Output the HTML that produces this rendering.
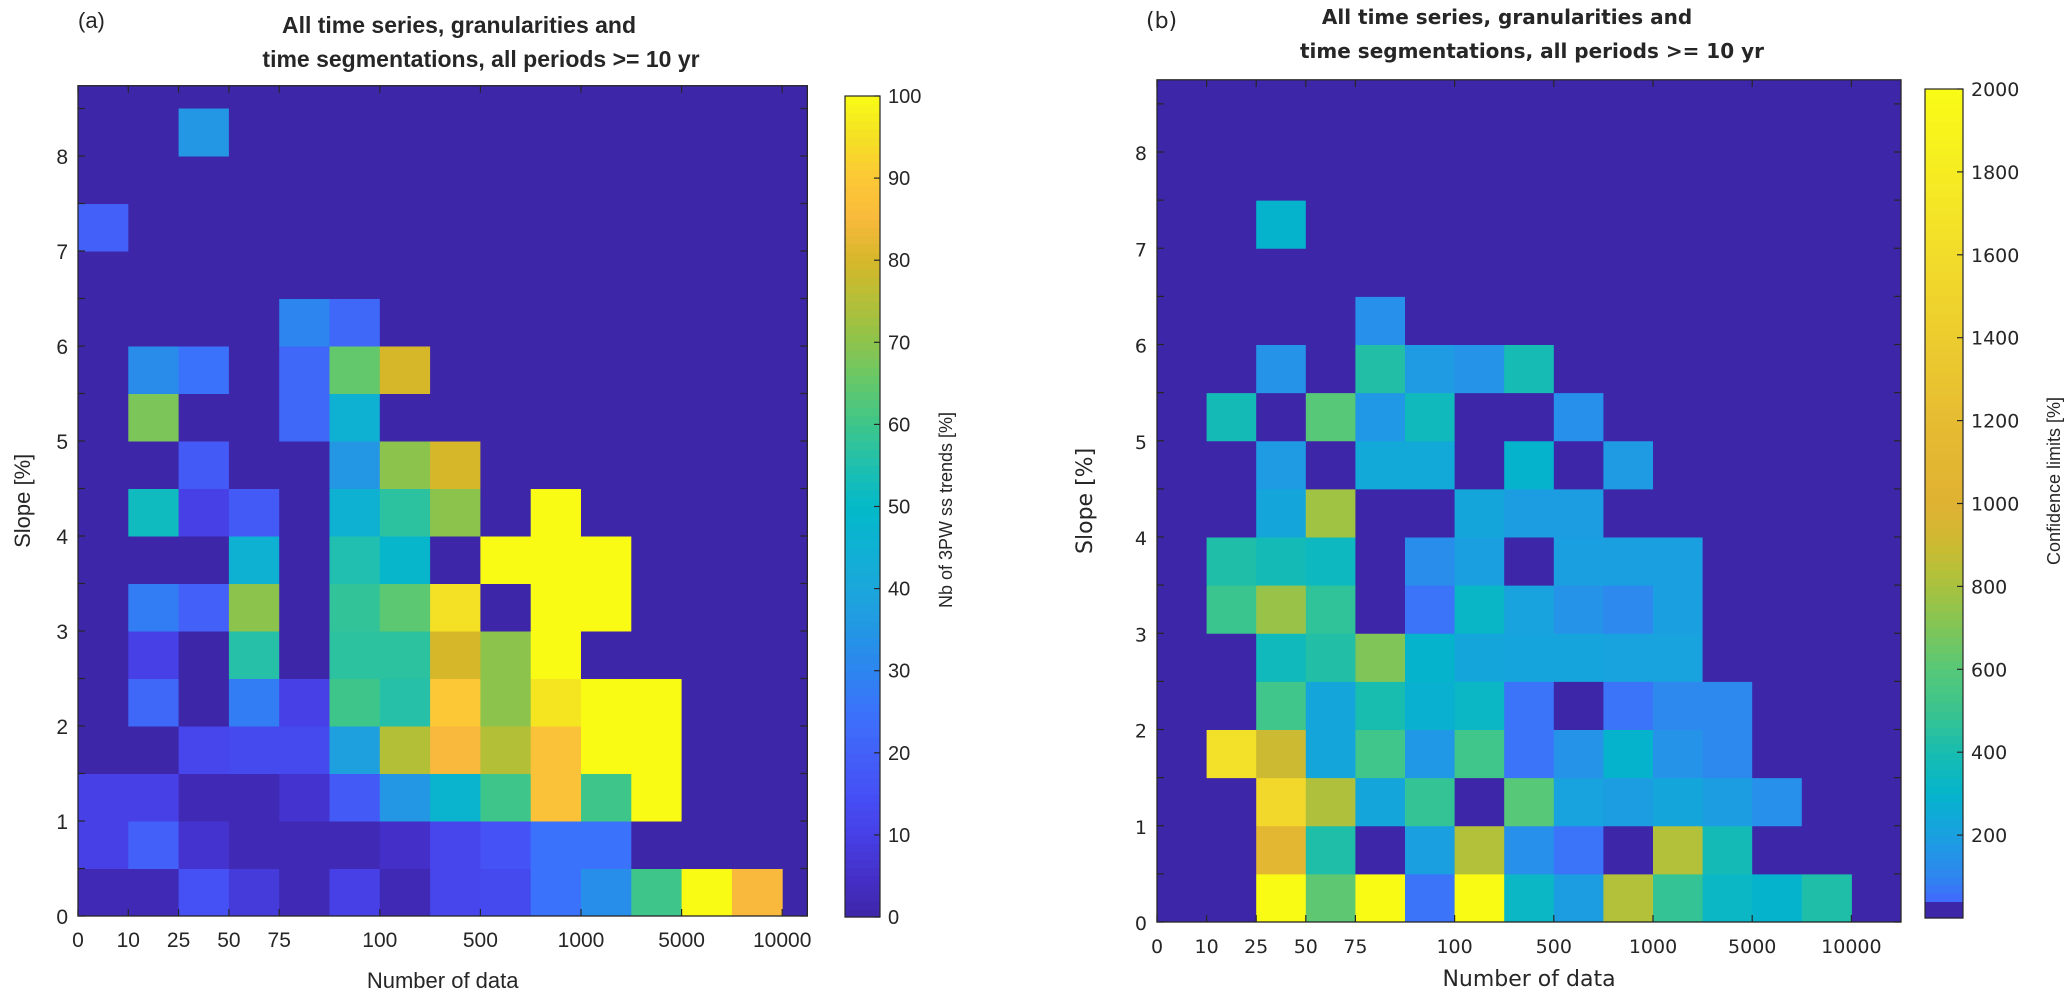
<!DOCTYPE html>
<html><head><meta charset="utf-8"><style>
html,body{margin:0;padding:0;background:#fff;}
svg{display:block;}
.fa{font-family:"Liberation Sans",sans-serif;fill:#262626;}
.fb{font-family:"DejaVu Sans","Liberation Sans",sans-serif;fill:#262626;}
</style></head><body>
<svg id="fig" width="2068" height="992" viewBox="0 0 2068 992" xmlns="http://www.w3.org/2000/svg"></svg>
<script>
// ---- data ----
const xTickLabels = ["0","10","25","50","75","100","500","1000","5000","10000"];
const xTickCols = [0,1,2,3,4,6,8,10,12,14];
const yTickLabelsA = ["0","1","2","3","4","5","6","7","8"];
const slopeBinWidth = 0.5;
const cbTicksA = [0,10,20,30,40,50,60,70,80,90,100];
const cbTicksB = [200,400,600,800,1000,1200,1400,1600,1800,2000];
// panel (a): Nb of 3PW ss trends [%], rows = slope bins from 0 upward, cols = data-count bins
const gridA = [
[2,2,15,8,2,10,2,12,13,25,33,60,100,85],
[10,20,6,2,2,2,5,12,16,25,25,0,0,0],
[10,10,2,2,6,18,35,47,60,88,60,100,0,0],
[0,0,12,13,13,38,75,85,75,88,100,100,0,0],
[0,22,0,28,10,60,56,90,70,96,100,100,0,0],
[0,10,0,56,0,57,57,80,70,100,0,0,0,0],
[0,28,20,70,0,58,64,95,0,100,100,0,0,0],
[0,0,0,45,0,55,48,0,100,100,100,0,0,0],
[0,52,10,18,0,45,57,70,0,100,0,0,0,0],
[0,0,18,0,0,35,70,80,0,0,0,0,0,0],
[0,68,0,0,22,45,0,0,0,0,0,0,0,0],
[0,32,25,0,22,65,80,0,0,0,0,0,0,0],
[0,0,0,0,30,22,0,0,0,0,0,0,0,0],
[0,0,0,0,0,0,0,0,0,0,0,0,0,0],
[20,0,0,0,0,0,0,0,0,0,0,0,0,0],
[0,0,0,0,0,0,0,0,0,0,0,0,0,0],
[0,0,35,0,0,0,0,0,0,0,0,0,0,0]
];
// panel (b): Confidence limits [%]
const gridB = [
[0,0,2000,620,2000,60,2000,330,190,830,480,330,300,420],
[0,0,1100,420,0,200,830,140,60,0,830,380,0,0],
[0,0,1550,820,230,480,0,600,210,190,230,190,140,0],
[0,1650,900,230,520,170,520,60,150,300,150,110,0,0],
[0,0,520,230,400,280,330,60,0,60,110,110,0,0],
[0,0,360,430,700,300,230,220,220,210,210,0,0,0],
[0,500,760,470,0,60,320,210,150,110,200,0,0,0],
[0,420,380,340,0,130,200,0,200,200,200,0,0,0],
[0,0,230,780,0,0,230,190,190,0,0,0,0,0],
[0,0,180,0,240,240,0,300,0,180,0,0,0,0],
[0,380,0,600,170,360,0,0,140,0,0,0,0,0],
[0,0,150,0,430,180,150,390,0,0,0,0,0,0],
[0,0,0,0,140,0,0,0,0,0,0,0,0,0],
[0,0,0,0,0,0,0,0,0,0,0,0,0,0],
[0,0,300,0,0,0,0,0,0,0,0,0,0,0],
[0,0,0,0,0,0,0,0,0,0,0,0,0,0],
[0,0,0,0,0,0,0,0,0,0,0,0,0,0]
];
// ---- colour maps ----
const parStops=[[0,"3e26a8"],[.05,"4430c8"],[.1,"4640e6"],[.15,"4550f5"],[.2,"4361f8"],[.25,"3a72fb"],[.3,"2d85f0"],[.35,"2396e4"],[.4,"1ba7dc"],[.45,"0fb1d3"],[.5,"03b9c8"],[.55,"20bfaf"],[.6,"3ec68a"],[.65,"63c86c"],[.7,"8cc34c"],[.75,"b4bf38"],[.8,"d6b72a"],[.85,"f8b93c"],[.9,"fcc836"],[.95,"f4e024"],[1,"f9fb15"]];
const bStops=[[0,"3e26a8"],[.015,"3e26a8"],[.016,"4466ff"],[.05,"2f86f0"],[.1,"1aa0e0"],[.15,"05b4cc"],[.2,"18bdb0"],[.25,"3ac48e"],[.3,"56c878"],[.35,"80c558"],[.4,"a8c23e"],[.45,"ccbb32"],[.5,"e0b132"],[.6,"e6bc32"],[.7,"eccc2e"],[.8,"f2dc2a"],[.9,"f6ec22"],[1,"f9fb15"]];
function interp(stops,t){t=Math.max(0,Math.min(1,t));for(let i=1;i<stops.length;i++){if(t<=stops[i][0]){const a=stops[i-1],b=stops[i];const f=(t-a[0])/((b[0]-a[0])||1);const ca=parseInt(a[1],16),cb=parseInt(b[1],16);const ch=s=>Math.round(((ca>>s)&255)*(1-f)+((cb>>s)&255)*f);return `rgb(${ch(16)},${ch(8)},${ch(0)})`;}}return "#"+stops[stops.length-1][1];}
const NS="http://www.w3.org/2000/svg";const svg=document.getElementById('fig');
function mk(tag,attrs,parent){const e=document.createElementNS(NS,tag);for(const k in attrs)e.setAttribute(k,attrs[k]);(parent||svg).appendChild(e);return e;}
function txt(s,attrs,parent){const e=mk('text',attrs,parent);e.textContent=s;return e;}

function panel(cfg){
  const g=mk('g',{});
  
  
  const X=c=>cfg.left+c*cfg.colW, Y=v=>cfg.bottom-v*cfg.unitH;
  const right=X(cfg.xmax), top=Y(cfg.ymax);
  const bg=mk('rect',{x:cfg.left,y:top,width:right-cfg.left,height:cfg.bottom-top,fill:"#3e26a8"},g);
  
  
  cfg.grid.forEach((row,r)=>row.forEach((v,c)=>{
    const col=cfg.color(v);
    const rc=mk('rect',{x:X(c),y:Y((r+1)*slopeBinWidth),width:cfg.colW+0.5,height:cfg.unitH*slopeBinWidth+0.5,fill:col},g);
    
    
  }));
  // frame
  mk('rect',{x:cfg.left,y:top,width:right-cfg.left,height:cfg.bottom-top,fill:"none",stroke:"#262626","stroke-width":1.3},g);
  // x ticks
  xTickCols.forEach((c,i)=>{
    mk('line',{x1:X(c),x2:X(c),y1:cfg.bottom,y2:cfg.bottom-7,stroke:"#262626","stroke-width":1.2},g);
    mk('line',{x1:X(c),x2:X(c),y1:top,y2:top+7,stroke:"#262626","stroke-width":1.2},g);
    const t=txt(xTickLabels[i],{x:X(c),y:cfg.bottom+31,"text-anchor":"middle","font-size":cfg.tickFs,class:cfg.cls},g);
    
    
  });
  for(let v=0;v<=cfg.ymax;v+=0.5){
    mk('line',{x1:cfg.left,x2:cfg.left+7,y1:Y(v),y2:Y(v),stroke:"#262626","stroke-width":1.2},g);
    mk('line',{x1:right,x2:right-7,y1:Y(v),y2:Y(v),stroke:"#262626","stroke-width":1.2},g);
  }
  yTickLabelsA.forEach(s=>{
    const t=txt(s,{x:cfg.left-10,y:Y(+s)+8,"text-anchor":"end","font-size":cfg.tickFs,class:cfg.cls},g);
    
    
  });
  const xl=txt("Number of data",{x:(cfg.left+right)/2,y:cfg.xlabY,"text-anchor":"middle","font-size":cfg.labFs,class:cfg.cls},g);
  
  
  const yl=txt("Slope [%]",{x:0,y:0,"text-anchor":"middle","font-size":cfg.labFs,class:cfg.cls,transform:`translate(${cfg.ylabX},${(top+cfg.bottom)/2}) rotate(-90)`},g);
  
  
  const pl=txt(cfg.letter,{x:cfg.letterX,y:28,"font-size":22,class:cfg.cls},g);
  
  
  const t1=txt("All time series, granularities and",{x:cfg.t1x,y:cfg.t1y,"text-anchor":"middle","font-size":cfg.titleFs,"font-weight":"bold",fill:"#000",class:cfg.tcls},g);
  
  
  const t2=txt("time segmentations, all periods >= 10 yr",{x:cfg.t2x,y:cfg.t2y,"text-anchor":"middle","font-size":cfg.titleFs,"font-weight":"bold",fill:"#000",class:cfg.tcls},g);
  
  
  // colorbar
  const cb=mk('g',{},g);
  
  
  const n=100,h=(cfg.cbBottom-cfg.cbTop)/n;
  for(let i=0;i<n;i++){mk('rect',{x:cfg.cbLeft,y:cfg.cbBottom-(i+1)*h,width:cfg.cbW,height:h+0.6,fill:cfg.cbColor((i+0.5)/n)},cb);}
  mk('rect',{x:cfg.cbLeft,y:cfg.cbTop,width:cfg.cbW,height:cfg.cbBottom-cfg.cbTop,fill:"none",stroke:"#262626","stroke-width":1.2},cb);
  cfg.cbTicks.forEach(v=>{
    const y=cfg.cbBottom-v/cfg.cbMax*(cfg.cbBottom-cfg.cbTop);
    mk('line',{x1:cfg.cbLeft+cfg.cbW-6,x2:cfg.cbLeft+cfg.cbW,y1:y,y2:y,stroke:"#262626","stroke-width":1.2},cb);
    const t=txt(String(v),{x:cfg.cbLeft+cfg.cbW+8,y:y+7,"font-size":cfg.cbFs,class:cfg.cls},cb);
    
    
  });
  const ct=txt(cfg.cbTitle,{x:0,y:0,"text-anchor":"middle","font-size":18,class:"fa",transform:`translate(${cfg.cbTitleX},${cfg.cbTitleY}) rotate(-90)`},cb);
  
  
}
panel({name:'panel-a-heatmap',grid:gridA,color:v=>interp(parStops,v/100),left:78,colW:50.3,xmax:14.5,bottom:916,unitH:95,ymax:8.74,
  cls:'fa',tcls:'fa',tickFs:21,labFs:22,xlabY:988,ylabX:30,letter:'(a)',letterX:78,
  t1x:459,t1y:33,t2x:481,t2y:67,titleFs:23,
  cbLeft:845,cbW:35,cbTop:96,cbBottom:917,cbMax:100,cbTicks:cbTicksA,cbColor:t=>interp(parStops,t),cbFs:20,
  cbTitle:'Nb of 3PW ss trends [%]',cbTitleX:952,cbTitleY:510});
panel({name:'panel-b-heatmap',grid:gridB,color:v=>interp(bStops,v/2000),left:1157,colW:49.6,xmax:15,bottom:922,unitH:96.25,ymax:8.75,
  cls:'fb',tcls:'fb',tickFs:19,labFs:22,xlabY:986,ylabX:1092,letter:'(b)',letterX:1146,
  t1x:1507,t1y:24,t2x:1532,t2y:58,titleFs:20,
  cbLeft:1925,cbW:38,cbTop:89,cbBottom:918,cbMax:2000,cbTicks:cbTicksB,cbColor:t=>interp(bStops,t),cbFs:19,
  cbTitle:'Confidence limits [%]',cbTitleX:2060,cbTitleY:481});
</script>
</body></html>
